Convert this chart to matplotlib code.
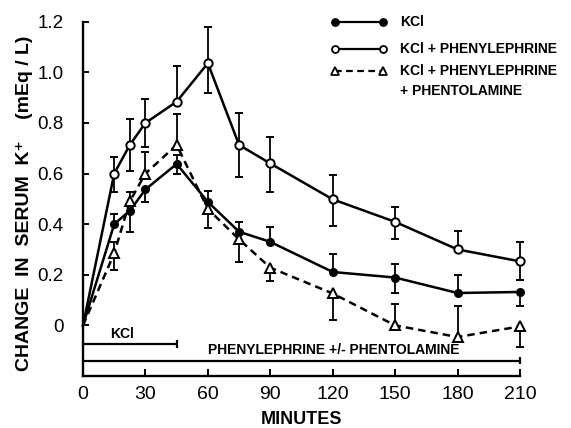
import matplotlib
matplotlib.use("Agg")
import matplotlib.pyplot as plt
from matplotlib.lines import Line2D
import numpy as np

# ---------------- data ----------------
minutes = [0, 15, 22.5, 30, 45, 60, 75, 90, 120, 150, 180, 210]

kcl    = [0, 0.40, 0.453, 0.537, 0.638, 0.488, 0.37, 0.33, 0.211, 0.189, 0.128, 0.132]
kcl_lo = [0, 0, 0.083, 0.05, 0.038, 0, 0, 0, 0, 0.06, 0, 0.057]
kcl_hi = [0, 0.04, 0, 0, 0.035, 0.042, 0.04, 0.06, 0.073, 0.053, 0.07, 0]

pe    = [0, 0.60, 0.713, 0.80, 0.884, 1.036, 0.713, 0.64, 0.498, 0.409, 0.30, 0.253]
pe_lo = [0, 0.072, 0.102, 0.094, 0, 0.118, 0.126, 0.112, 0.106, 0.066, 0, 0.072]
pe_hi = [0, 0.067, 0.103, 0.094, 0.142, 0.144, 0.125, 0.106, 0.096, 0.06, 0.073, 0.077]

pt    = [0, 0.285, 0.49, 0.60, 0.713, 0.46, 0.34, 0.228, 0.126, 0.0, -0.046, -0.004]
pt_lo = [0, 0.067, 0, 0, 0, 0.077, 0.09, 0.053, 0.106, 0, 0, 0.082]
pt_hi = [0, 0.045, 0.038, 0.086, 0.123, 0, 0, 0, 0, 0.083, 0.121, 0]

kcl_period = (0, 45)
pe_period = (0, 210)

xticks = [0, 30, 60, 90, 120, 150, 180, 210]
yticks = [0, 0.2, 0.4, 0.6, 0.8, 1.0, 1.2]
ytick_labels = ["0", "0.2", "0.4", "0.6", "0.8", "1.0", "1.2"]

legend_labels = ["KCl", "KCl + PHENYLEPHRINE", "KCl + PHENYLEPHRINE", "+ PHENTOLAMINE"]

# ---------------- figure ----------------
plt.rcParams["font.family"] = ["Liberation Sans", "DejaVu Sans"]
W, H = 571, 428
fig = plt.figure(figsize=(W / 100, H / 100), dpi=100)
ax = fig.add_axes([83 / W, 1 - 376 / H, (520 - 83) / W, (376 - 21.7) / H])

LW = 1.8


def draw_err(x, y, lo, hi):
    x = np.asarray(x, float)
    y = np.asarray(y, float)
    lo = np.asarray(lo, float)
    hi = np.asarray(hi, float)
    for err, sign in ((lo, -1), (hi, 1)):
        m = err > 0
        ends = y[m] + sign * err[m]
        ax.vlines(x[m], y[m], ends, color="k", lw=1.3, zorder=2, clip_on=False)
        ax.plot(x[m], ends, ls="none", marker="_", ms=6, mew=1.4, color="k",
                zorder=2, clip_on=False)


draw_err(minutes, kcl, kcl_lo, kcl_hi)
draw_err(minutes, pe, pe_lo, pe_hi)
draw_err(minutes, pt, pt_lo, pt_hi)

ax.plot(minutes, kcl, "-", color="k", lw=LW, marker="o", ms=5.5, mfc="k", mec="k",
        markevery=slice(1, None), clip_on=False, zorder=3)
ax.plot(minutes, pe, "-", color="k", lw=LW, marker="o", ms=6, mfc="white", mec="k",
        mew=1.4, markevery=slice(1, None), clip_on=False, zorder=3)
ax.plot(minutes, pt, color="k", lw=LW, ls=(0, (3, 2)), marker="^", ms=7, mfc="white",
        mec="k", mew=1.4, markevery=slice(1, None), clip_on=False, zorder=3)

# treatment period bars
ax.hlines(-0.073, *kcl_period, color="k", lw=1.6, clip_on=False)
ax.vlines(kcl_period[1], -0.073 - 0.016, -0.073 + 0.016, color="k", lw=1.6)
ax.hlines(-0.139, *pe_period, color="k", lw=1.6, clip_on=False)
ax.vlines(pe_period[1], -0.139 - 0.014, -0.139 + 0.014, color="k", lw=1.6, clip_on=False)
ax.text(19, -0.036, "KCl", ha="center", va="center", fontsize=10, fontweight="bold")
ax.text(60, -0.099, "PHENYLEPHRINE +/- PHENTOLAMINE", ha="left", va="center",
        fontsize=10, fontweight="bold")

# axes styling
ax.set_xlim(0, 210)
ax.set_ylim(-0.2, 1.2)
ax.set_xticks(xticks)
ax.set_xticklabels([str(t) for t in xticks])
ax.set_yticks(yticks)
ax.set_yticklabels(ytick_labels)
for s in ("top", "right"):
    ax.spines[s].set_visible(False)
for s in ("left", "bottom"):
    ax.spines[s].set_linewidth(1.7)
ax.tick_params(axis="x", direction="in", length=5, width=1.4, pad=7, labelsize=14)
ax.tick_params(axis="y", direction="in", length=4, width=1.4, pad=14, labelsize=13.5)

fig.text(301.5 / W, 1 - 420 / H, "MINUTES", ha="center", va="center",
         fontsize=13, fontweight="bold")
fig.text(25 / W, 1 - 203 / H, "CHANGE  IN  SERUM  K\u207a    (mEq / L)", rotation=90,
         ha="center", va="center", fontsize=14, fontweight="bold")

# legend (drawn manually)
rows_y = [21.7, 49.3, 70.7]
styles = [
    dict(ls="-", marker="o", ms=5, mfc="k"),
    dict(ls="-", marker="o", ms=5, mfc="white"),
    dict(ls=(0, (3, 2)), marker="^", ms=6, mfc="white"),
]
for ry, st in zip(rows_y, styles):
    ln = Line2D([335 / W, 383 / W], [1 - ry / H] * 2, color="k", lw=1.6, mec="k",
                mew=1.3, transform=fig.transFigure, **st)
    fig.add_artist(ln)
for ry, lab in zip(rows_y + [90.7], legend_labels):
    fig.text(400 / W, 1 - ry / H, lab, ha="left", va="center",
             fontsize=10, fontweight="bold")

fig.savefig("out.png", dpi=100)
